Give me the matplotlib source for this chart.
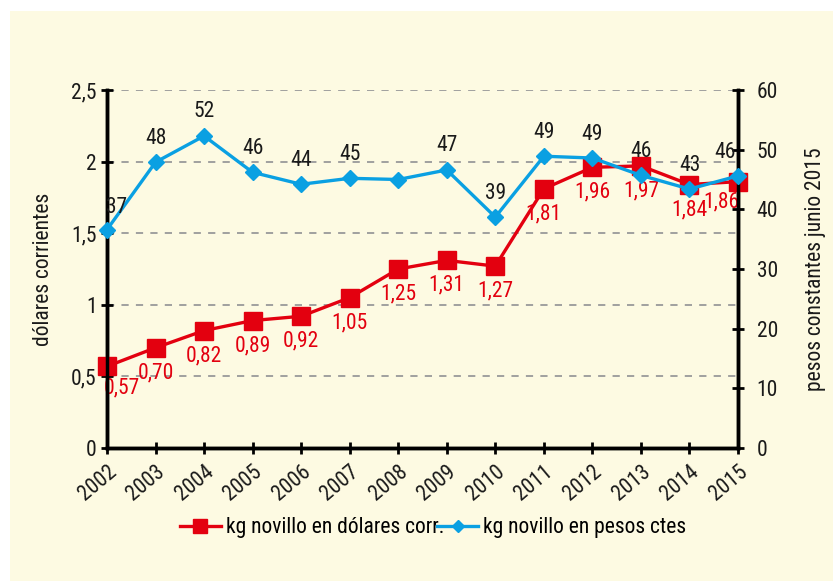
import matplotlib
matplotlib.use("Agg")
import matplotlib.pyplot as plt
from matplotlib.patches import Rectangle
from matplotlib import font_manager as fm

years = ["2002", "2003", "2004", "2005", "2006", "2007", "2008",
         "2009", "2010", "2011", "2012", "2013", "2014", "2015"]
usd_values = [0.57, 0.70, 0.82, 0.89, 0.92, 1.05, 1.25,
              1.31, 1.27, 1.81, 1.96, 1.97, 1.84, 1.86]
pesos_values = [36.6, 47.9, 52.3, 46.2, 44.2, 45.2, 45.0,
                46.6, 38.7, 48.9, 48.6, 45.7, 43.4, 45.6]
usd_name = "kg novillo en dólares corr."
pesos_name = "kg novillo en pesos ctes"
left_label = "dólares corrientes"
right_label = "pesos constantes junio 2015"

available = {f.name for f in fm.fontManager.ttflist}
FONT = [f for f in ["Roboto Condensed", "Archivo Narrow", "PT Sans Narrow",
                    "Liberation Sans Narrow", "Roboto"] if f in available] + ["DejaVu Sans"]
plt.rcParams["font.family"] = FONT

RED = "#E3000F"
BLUE = "#0AA0E2"
BG = "#FDFAE2"
TXT = "#1a1a1a"

fig = plt.figure(figsize=(8.33, 5.81), dpi=100)
fig.patch.set_facecolor("white")
fig.add_artist(Rectangle((10 / 833, 0), 1, 1 - 11 / 581, transform=fig.transFigure,
                         facecolor=BG, edgecolor="none", zorder=-10))

ax = fig.add_axes([107 / 833, 1 - 448 / 581, (738 - 107) / 833, (448 - 90) / 581])
ax.set_facecolor("none")
ax2 = ax.twinx()

x = list(range(len(years)))

ax.set_xlim(0, len(years) - 1)
ax.set_ylim(0, 2.5)
ax2.set_ylim(0, 60)

for yv in [0.5, 1.0, 1.5, 2.0, 2.5]:
    ax.axhline(yv, color="#999999", lw=1.3, ls=(0, (4, 4)), zorder=0)

l1, = ax.plot(x, usd_values, color=RED, lw=2.4, marker="s", markersize=12.5,
              markerfacecolor=RED, markeredgecolor=RED, zorder=3, clip_on=False)
l2, = ax2.plot(x, pesos_values, color=BLUE, lw=2.4, marker="D", markersize=8.5,
               markerfacecolor=BLUE, markeredgecolor=BLUE, zorder=4, clip_on=False)

fs = 15.5
for i, v in enumerate(usd_values):
    dx = 0
    dy = -25
    if i == 0:
        dx = 15
        dy = -22
    if i == len(usd_values) - 1:
        dx = -17
        dy = -20
    ax.annotate(f"{v:.2f}".replace(".", ","), (x[i], v), xytext=(dx, dy),
                textcoords="offset pixels", ha="center", va="center",
                color=RED, fontsize=fs, zorder=6, annotation_clip=False)

for i, v in enumerate(pesos_values):
    if i == 6:
        continue
    dx = 0
    dy = 24
    if i == 0:
        dx = 10
        dy = 22
    if i == len(pesos_values) - 1:
        dx = -13
        dy = 23
    ax2.annotate(f"{round(v):d}", (x[i], v), xytext=(dx, dy),
                 textcoords="offset pixels", ha="center", va="center",
                 color=TXT, fontsize=fs, zorder=6, annotation_clip=False)

ax.set_xticks(x)
ax.set_xticklabels(years, rotation=40, ha="right", rotation_mode="anchor",
                   fontsize=fs, color=TXT)
ax.set_yticks([0, 0.5, 1, 1.5, 2, 2.5])
ax.set_yticklabels(["0", "0,5", "1", "1,5", "2", "2,5"], fontsize=fs, color=TXT)
ax2.set_yticks([0, 10, 20, 30, 40, 50, 60])
ax2.set_yticklabels(["0", "10", "20", "30", "40", "50", "60"], fontsize=fs, color=TXT)

ax.tick_params(axis="both", direction="inout", length=9, width=2, pad=3)
ax.tick_params(axis="x", pad=5)
ax2.tick_params(axis="y", direction="inout", length=9, width=2, pad=9)

for a in (ax, ax2):
    a.spines["top"].set_visible(False)
    for s in ["left", "right", "bottom"]:
        a.spines[s].set_linewidth(2.5)
        a.spines[s].set_color("black")

ax.set_ylabel(left_label, fontsize=fs, color=TXT)
ax.yaxis.set_label_coords((54 - 107) / 631, 0.5)
ax2.set_ylabel(right_label, fontsize=fs, color=TXT)
ax2.yaxis.set_label_coords((805 - 107) / 631, 0.5)

fig.legend([l1, l2], [usd_name, pesos_name], loc="center left",
           bbox_to_anchor=(180 / 833, 1 - 528 / 581), ncol=2, frameon=False,
           fontsize=fs, handlelength=1.9, handletextpad=0.25, columnspacing=-0.35,
           markerscale=0.75, borderpad=0, borderaxespad=0)

fig.savefig("out.png", dpi=100, facecolor=fig.get_facecolor())
